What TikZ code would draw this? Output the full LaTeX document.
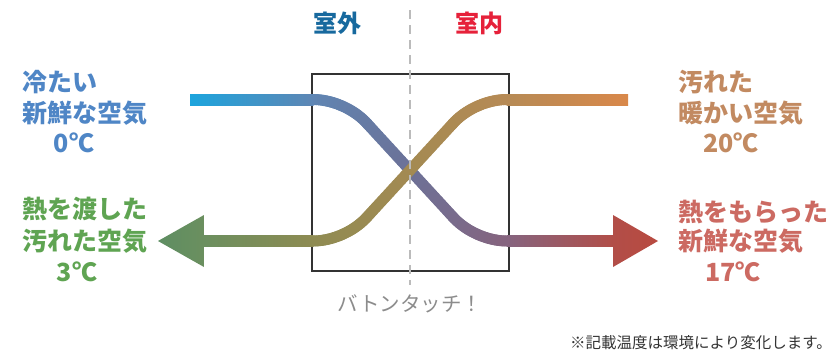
\documentclass[tikz,border=0pt]{standalone}
\usepackage{fontspec}
\newfontfamily\jp{Noto Sans CJK JP}
\usetikzlibrary{calc}
\definecolor{lblue}{HTML}{4F86C6}
\definecolor{ltan}{HTML}{C28A61}
\definecolor{lgreen}{HTML}{5FA452}
\definecolor{lred}{HTML}{CC6A62}
\definecolor{hblue}{HTML}{17699E}
\definecolor{hred}{HTML}{E6213A}
\definecolor{graytxt}{HTML}{8C8C8C}
\definecolor{notetxt}{HTML}{333333}
\definecolor{boxc}{HTML}{333333}
\definecolor{dashc}{HTML}{BBBBBB}
\definecolor{b1}{HTML}{1CA4DD}
\definecolor{b2}{HTML}{5F86B4}
\definecolor{b3}{HTML}{6C7298}
\definecolor{b4}{HTML}{85647F}
\definecolor{b5}{HTML}{B24E48}
\definecolor{b6}{HTML}{B84A40}
\definecolor{o1}{HTML}{D9884A}
\definecolor{o2}{HTML}{B68A55}
\definecolor{o3}{HTML}{A38A52}
\definecolor{o4}{HTML}{8E8B52}
\definecolor{o5}{HTML}{6B8F5F}
\definecolor{o6}{HTML}{5E8E62}
\tikzset{
  flow/.style={line width=11pt, line cap=round},
  lbl/.style={inner sep=0pt, font=\jp\bfseries\fontsize{25}{30}\selectfont},
  head/.style={inner sep=0pt, font=\jp\bfseries\fontsize{24}{28}\selectfont},
  dashln/.style={draw=dashc, line width=2pt, dash pattern=on 9pt off 6pt},
  boxstyle/.style={draw=boxc, line width=2pt, inner sep=0pt, minimum width=197pt, minimum height=197pt}
}
\newdimen\flowx
% #1..#4: cubic points; #5,#6,#7: colours at x=315, 410, 505
\newcommand\flowcurve[7]{%
  \foreach \i in {1,...,30} {
    \pgfmathsetmacro\ta{(\i-1)/30}
    \pgfmathsetmacro\tb{\i/30}
    \pgfmathsetmacro\tm{(\i-0.5)/30}
    \path #1 .. controls #2 and #3 .. #4 coordinate[pos=\ta] (sa) coordinate[pos=\tb] (sb) coordinate[pos=\tm] (sm);
    \pgfextractx{\flowx}{\pgfpointanchor{sm}{center}}
    \pgfmathsetmacro\xx{\flowx}
    \ifdim\flowx<410pt
      \pgfmathtruncatemacro\pc{max(0,min(100,(\xx-315)/95*100))}
      \draw[flow, color=#6!\pc!#5] (sa) -- (sb);
    \else
      \pgfmathtruncatemacro\pc{max(0,min(100,(\xx-410)/95*100))}
      \draw[flow, color=#7!\pc!#6] (sa) -- (sb);
    \fi
  }%
}
\begin{document}
\begin{tikzpicture}[x=1pt,y=-1pt]
\useasboundingbox (0,0) rectangle (838,357);
% box
\node[boxstyle] (box) at (410.3,172.6) {};
% blue flow
\flowcurve{(313,99.5)}{(332.2,99.5)}{(353.66,108.92)}{(366.65,123.06)}{b2}{b3}{b4}
\flowcurve{(366.65,123.06)}{(366.65,123.06)}{(453.35,217.44)}{(453.35,217.44)}{b2}{b3}{b4}
\flowcurve{(453.35,217.44)}{(466.34,231.58)}{(487.8,241)}{(507,241)}{b2}{b3}{b4}
\shade[left color=b1, right color=b2] (190,94) rectangle (313.5,105);
\shade[left color=b4, right color=b5] (506.5,235.5) rectangle (613.5,246.5);
\shade[left color=b5, right color=b6] (613,215) -- (658,241) -- (613,267) -- cycle;
% orange flow
\flowcurve{(313,241)}{(332.2,241)}{(353.66,231.58)}{(366.65,217.44)}{o4}{o3}{o2}
\flowcurve{(366.65,217.44)}{(366.65,217.44)}{(453.35,123.06)}{(453.35,123.06)}{o4}{o3}{o2}
\flowcurve{(453.35,123.06)}{(466.34,108.92)}{(487.8,99.5)}{(507,99.5)}{o4}{o3}{o2}
\shade[left color=o2, right color=o1] (506.5,94) rectangle (628,105);
\shade[left color=o5, right color=o4] (204,235.5) rectangle (313.5,246.5);
\shade[left color=o6, right color=o5] (204,215) -- (158,241) -- (204,267) -- cycle;
% dashed divider
\coordinate (dtop) at (410,10);
\coordinate (dbot) at (410,285);
\draw[dashln] (dtop) -- (dbot);
% headers
\node[head, text=hblue] (out) at (337.5,23) {室外};
\node[head, text=hred] (in) at (479,23) {室内};
% labels left top
\node[lbl, text=lblue, anchor=west] (lt1) at (22,82) {冷たい};
\node[lbl, text=lblue, anchor=west] (lt2) at (22,113) {新鮮な空気};
\node[lbl, text=lblue] (lt3) at (74,143) {0℃};
% right top
\node[lbl, text=ltan, anchor=west] (rt1) at (678,82) {汚れた};
\node[lbl, text=ltan, anchor=west] (rt2) at (678,113) {暖かい空気};
\node[lbl, text=ltan] (rt3) at (731,143) {20℃};
% left bottom
\node[lbl, text=lgreen, anchor=west] (lb1) at (22,209) {熱を渡した};
\node[lbl, text=lgreen, anchor=west] (lb2) at (22,241) {汚れた空気};
\node[lbl, text=lgreen] (lb3) at (77,272) {3℃};
% right bottom
\node[lbl, text=lred, anchor=west] (rb1) at (678,212) {熱をもらった};
\node[lbl, text=lred, anchor=west] (rb2) at (678,241) {新鮮な空気};
\node[lbl, text=lred] (rb3) at (733,272) {17℃};
% captions
\node[inner sep=0pt, text=graytxt, font=\jp\fontsize{20.5}{24}\selectfont] (baton) at (410,304) {バトンタッチ！};
\node[inner sep=0pt, text=notetxt, font=\jp\fontsize{15.5}{18}\selectfont] (note) at (701,343) {※記載温度は環境により変化します。};
\end{tikzpicture}
\end{document}
